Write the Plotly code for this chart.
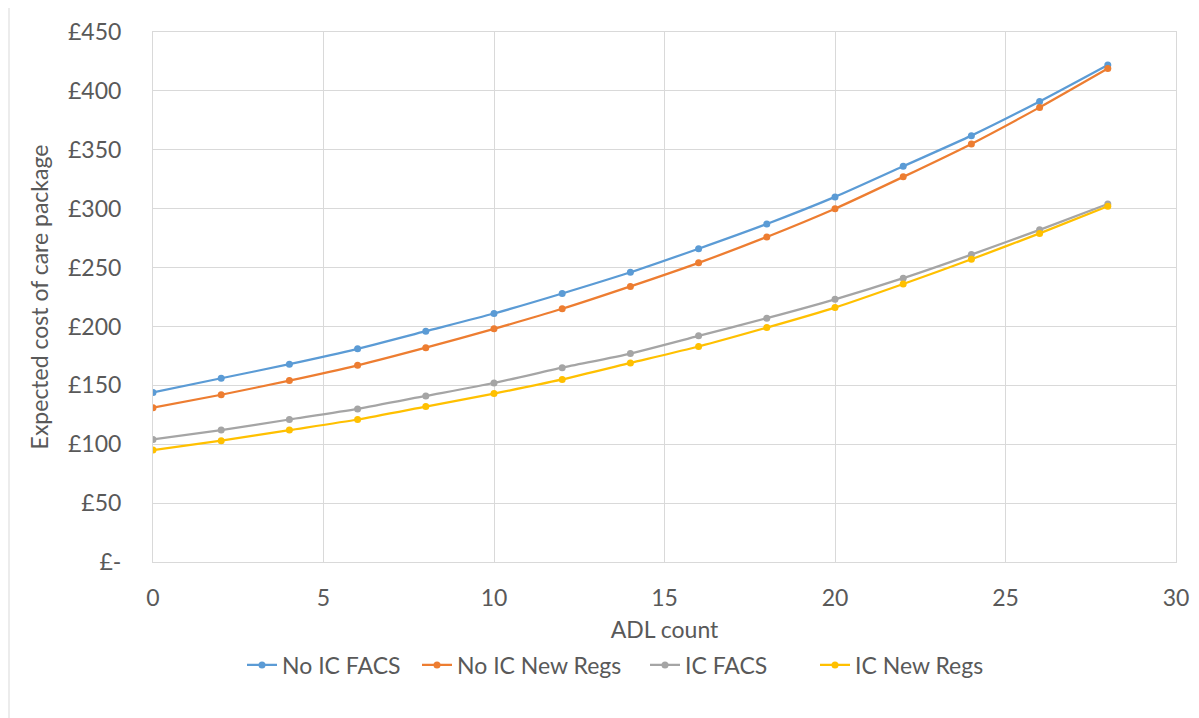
import plotly.graph_objects as go

adl = [0, 2, 4, 6, 8, 10, 12, 14, 16, 18, 20, 22, 24, 26, 28]
no_ic_facs = [144, 156, 168, 181, 196, 211, 228, 246, 266, 287, 310, 336, 362, 391, 422]
no_ic_new_regs = [131, 142, 154, 167, 182, 198, 215, 234, 254, 276, 300, 327, 355, 386, 419]
ic_facs = [104, 112, 121, 130, 141, 152, 165, 177, 192, 207, 223, 241, 261, 282, 304]
ic_new_regs = [95, 103, 112, 121, 132, 143, 155, 169, 183, 199, 216, 236, 257, 279, 302]

series_names = ["No IC FACS", "No IC New Regs", "IC FACS", "IC New Regs"]
series_values = [no_ic_facs, no_ic_new_regs, ic_facs, ic_new_regs]
colors = ["#5B9BD5", "#ED7D31", "#A5A5A5", "#FFC000"]

y_tickvals = [0, 50, 100, 150, 200, 250, 300, 350, 400, 450]
y_ticktext = ["£-", "£50", "£100", "£150", "£200", "£250", "£300", "£350", "£400", "£450"]
x_tickvals = [0, 5, 10, 15, 20, 25, 30]

FONT = "Lato"
FS = 23
TXT = "#595959"
GRID = "#D9D9D9"

W, H = 1191, 710
ML, MR, MT, MB = 145, 23, 24, 156
PW, PH = W - ML - MR, H - MT - MB

# left edge (px, figure coords) of each legend entry
legend_left_px = [234, 409, 637, 807]
legend_ids = ["legend", "legend2", "legend3", "legend4"]

fig = go.Figure()
for name, vals, c, lid in zip(series_names, series_values, colors, legend_ids):
    fig.add_trace(go.Scatter(
        x=adl, y=vals, name=name, mode="lines+markers", legend=lid,
        line=dict(color=c, width=2.25, shape="spline", smoothing=0.6),
        marker=dict(color=c, size=7, symbol="circle"),
    ))

legends = {}
for lid, lx in zip(legend_ids, legend_left_px):
    legends[lid] = dict(orientation="h", xref="container", yref="container",
                        x=lx / W, xanchor="left", y=0.0746, yanchor="middle",
                        font=dict(family=FONT, size=FS, color=TXT),
                        itemwidth=30, bgcolor="rgba(0,0,0,0)")

fig.update_layout(
    width=W, height=H,
    paper_bgcolor="white", plot_bgcolor="white",
    margin=dict(l=ML, r=MR, t=MT, b=MB, autoexpand=False),
    font=dict(family=FONT, size=FS, color=TXT),
    showlegend=True,
    xaxis=dict(range=[0, 30], tickvals=x_tickvals, showgrid=True, gridcolor=GRID, gridwidth=1,
               showline=True, linecolor=GRID, linewidth=1, mirror=True, zeroline=False,
               ticks="", ticklabelstandoff=15, automargin=True,
               tickfont=dict(family=FONT, size=FS, color=TXT),
               title=dict(text="ADL count", standoff=12, font=dict(family=FONT, size=FS, color=TXT))),
    yaxis=dict(range=[0, 450], tickvals=y_tickvals, ticktext=y_ticktext, showgrid=True,
               gridcolor=GRID, gridwidth=1, showline=True, linecolor=GRID, linewidth=1,
               mirror=True, zeroline=False, ticks="", ticklabelstandoff=26, automargin=True,
               tickfont=dict(family=FONT, size=FS, color=TXT),
               title=dict(text="Expected cost of care package", standoff=12,
                          font=dict(family=FONT, size=FS, color=TXT))),
    shapes=[dict(type="line", xref="paper", yref="paper",
                 x0=-(ML - 1) / PW, x1=-(ML - 1) / PW, y0=-MB / PH, y1=1 + MT / PH,
                 line=dict(color=GRID, width=1))],
    **legends,
)

fig.write_html("out.html")
